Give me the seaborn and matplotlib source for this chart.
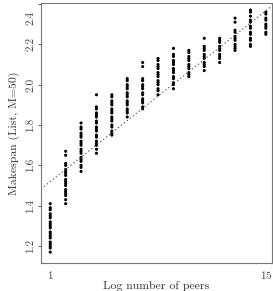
import numpy as np
import pandas as pd
import matplotlib
matplotlib.use("Agg")
import matplotlib.pyplot as plt
import matplotlib.transforms as mtransforms
import seaborn as sns

sns.set_theme(style="white")
plt.rcParams["font.family"] = ["cmr10", "DejaVu Serif"]
plt.rcParams["axes.formatter.use_mathtext"] = True

# log number of peers -> makespan values
c1 = [1.41, 1.39, 1.38, 1.36, 1.35, 1.34, 1.32, 1.31, 1.30, 1.29, 1.27, 1.26, 1.25, 1.24, 1.22, 1.21, 1.20, 1.19, 1.17]
c2 = [1.67, 1.65, 1.61, 1.60, 1.58, 1.57, 1.56, 1.55, 1.53, 1.52, 1.51, 1.50, 1.48, 1.47, 1.46, 1.45, 1.43, 1.41]
c3 = [1.81, 1.79, 1.78, 1.76, 1.75, 1.74, 1.72, 1.71, 1.70, 1.68, 1.67, 1.66, 1.64, 1.63, 1.62, 1.60, 1.59, 1.57]
c4 = [1.95, 1.89, 1.88, 1.86, 1.85, 1.84, 1.82, 1.81, 1.79, 1.78, 1.77, 1.75, 1.74, 1.72, 1.71, 1.70, 1.68, 1.66]
c5 = [1.95, 1.94, 1.92, 1.91, 1.90, 1.88, 1.87, 1.86, 1.84, 1.83, 1.82, 1.80, 1.79, 1.77, 1.76, 1.75]
c6 = [2.03, 2.02, 2.00, 1.99, 1.98, 1.96, 1.95, 1.94, 1.92, 1.91, 1.90, 1.88, 1.87, 1.86, 1.84]
c7 = [2.11, 2.09, 2.03, 2.02, 2.00, 1.99, 1.98, 1.96, 1.95, 1.93, 1.92, 1.91, 1.89, 1.88]
c8 = [2.13, 2.12, 2.10, 2.09, 2.08, 2.06, 2.05, 2.04, 2.02, 2.01, 2.00, 1.98, 1.97, 1.95]
c9 = [2.18, 2.15, 2.14, 2.12, 2.11, 2.10, 2.08, 2.07, 2.06, 2.04, 2.03, 2.01, 2.00, 1.98]
c10 = [2.17, 2.16, 2.14, 2.13, 2.12, 2.10, 2.09, 2.08, 2.06, 2.05, 2.04]
c11 = [2.23, 2.19, 2.18, 2.17, 2.15, 2.14, 2.13, 2.11, 2.10, 2.09, 2.07]
c12 = [2.23, 2.22, 2.21, 2.19, 2.18, 2.17, 2.15, 2.14, 2.13, 2.11]
c13 = [2.33, 2.31, 2.27, 2.26, 2.24, 2.23, 2.22, 2.20, 2.19, 2.18, 2.17]
c14 = [2.37, 2.36, 2.34, 2.32, 2.31, 2.29, 2.28, 2.26, 2.25, 2.23, 2.22, 2.20, 2.19]
c15 = [2.36, 2.35, 2.33, 2.32, 2.30, 2.29, 2.28, 2.26, 2.25]
columns = [c1, c2, c3, c4, c5, c6, c7, c8, c9, c10, c11, c12, c13, c14, c15]
log_peers = list(range(1, 16))

# dotted trend line
line_intercept = 1.459
line_slope = 0.0605

rows = []
for lp, vals in zip(log_peers, columns):
    for v in vals:
        rows.append((lp, v))
df = pd.DataFrame(rows, columns=["logpeers", "makespan"])

fig = plt.figure(figsize=(2.73, 2.91), dpi=100)
ax = fig.add_axes([41 / 273, 28 / 291, 231 / 273, 260 / 291])

sns.scatterplot(data=df, x="logpeers", y="makespan", ax=ax, color="black",
                s=5, marker="o", edgecolor="none", linewidth=0)
ax.axline((0, line_intercept), slope=line_slope, color="#555555",
          linestyle=(0, (1.2, 2.2)), linewidth=0.8)

ax.set_xlim(0.4, 15.4)
ax.set_ylim(1.116, 2.405)
ax.set_xticks([1, 15])
ax.set_yticks([1.2, 1.4, 1.6, 1.8, 2.0, 2.2, 2.4])
ax.set_yticklabels(["1.2", "1.4", "1.6", "1.8", "2.0", "2.2", "2.4"],
                   rotation=90, va="center")
ax.tick_params(axis="y", length=2, width=0.6, pad=2, labelsize=8, colors="#444444",
               left=True)
ax.tick_params(axis="x", length=0, pad=4, labelsize=8, colors="#444444")

# keep the top y label inside the figure
top_lab = ax.get_yticklabels()[-1]
top_lab.set_va("top")
top_lab.set_transform(top_lab.get_transform() +
                      mtransforms.ScaledTranslation(0, -5 / 72, fig.dpi_scale_trans))

for sp in ax.spines.values():
    sp.set_color("#777777")
    sp.set_linewidth(0.8)
ax.set_xlabel("Log number of peers", fontsize=8.5, color="#333333", labelpad=0)
ax.set_ylabel("Makespan (List, M=50)", fontsize=8.5, color="#333333", labelpad=4)

fig.savefig("out.png", dpi=100)
